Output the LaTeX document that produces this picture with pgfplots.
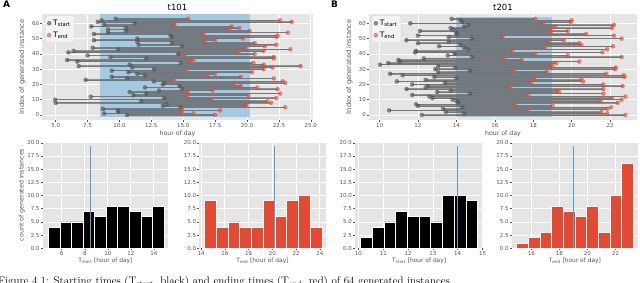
\documentclass[border=0pt]{standalone}
\usepackage{fontspec}
\setsansfont{DejaVu Sans}
\usepackage{pgfplots}
\usepackage{pgfplotstable}
\pgfplotsset{compat=1.18}
\definecolor{bg}{HTML}{E5E5E5}
\definecolor{ggred}{HTML}{E24A33}
\definecolor{ggblue}{HTML}{348ABD}
\definecolor{spanblue}{RGB}{166,201,226}
\definecolor{tickgray}{HTML}{555555}
\definecolor{vline}{RGB}{95,155,200}
\definecolor{startgray}{HTML}{555555}
\definecolor{linegray}{HTML}{777777}

\pgfplotstableread{
i s e
0 10.6 17.5
1 8.8 15.8
2 9.9 14.9
3 9.9 17.9
4 8.7 14.9
5 14.8 23.0
6 13.4 19.9
7 13.7 19.9
8 5.0 21.9
9 11.7 21.6
10 4.95 17.2
11 13.5 22.3
12 7.75 15.3
13 11.1 20.1
14 12.1 22.6
15 10.8 15.35
16 13.1 17.3
17 14.9 22.4
18 12.0 20.8
19 14.7 19.5
20 13.4 19.0
21 13.5 23.0
22 12.7 22.8
23 7.35 14.3
24 10.6 22.1
25 9.4 19.5
26 12.0 16.9
27 11.4 17.5
28 10.7 20.4
29 9.4 15.2
30 12.7 21.3
31 11.0 22.0
32 6.8 24.2
33 10.8 21.3
34 14.8 20.5
35 6.7 15.5
36 5.9 15.8
37 12.1 22.1
38 9.3 22.1
39 7.5 15.1
40 14.6 20.6
41 6.0 19.3
42 6.4 21.3
43 9.9 23.4
44 7.9 19.9
45 14.9 21.4
46 11.5 22.3
47 14.1 20.6
48 11.4 16.7
49 8.0 17.5
50 11.4 19.7
51 14.1 22.3
52 14.0 22.4
53 8.0 16.6
54 9.1 23.2
55 10.5 20.2
56 9.1 18.6
57 10.5 19.4
58 7.8 18.8
59 8.8 14.3
60 11.2 14.3
61 8.3 23.5
62 8.6 22.6
63 9.7 15.4
}\dataA

\pgfplotstableread{
i s e
0 12.2 22.8
1 14.4 21.85
2 13.45 21.55
3 10.5 17.7
4 13.3 21.85
5 14.3 22.05
6 12.0 19.0
7 11.9 17.05
8 14.1 22.4
9 14.0 21.5
10 13.8 22.6
11 12.75 22.1
12 12.6 22.8
13 11.7 17.75
14 14.7 21.65
15 13.0 19.35
16 13.7 19.25
17 11.4 21.65
18 12.4 16.8
19 12.5 22.65
20 11.7 21.65
21 13.4 17.9
22 10.9 20.6
23 12.4 20.5
24 14.0 18.05
25 12.85 22.75
26 11.2 22.7
27 10.55 21.8
28 13.05 18.7
29 14.7 17.0
30 12.9 22.25
31 13.95 22.3
32 13.05 19.0
33 10.03 18.9
34 10.45 19.2
35 11.07 20.4
36 10.98 17.4
37 12.3 16.5
38 14.8 22.6
39 13.55 19.8
40 13.9 18.1
41 11.85 21.6
42 11.9 16.9
43 14.6 21.85
44 14.4 18.6
45 13.1 22.15
46 14.2 20.5
47 12.0 20.4
48 13.6 18.8
49 11.4 19.6
50 14.8 22.6
51 13.6 16.4
52 12.0 22.2
53 14.0 20.75
54 14.0 18.9
55 12.1 19.8
56 13.8 18.9
57 13.7 22.1
58 14.4 19.15
59 14.6 22.2
60 11.6 18.5
61 14.3 19.95
62 14.2 20.0
63 13.75 18.1
}\dataB

\pgfplotsset{
  gg/.style={
    scale only axis,
    axis background/.style={fill=bg},
    axis line style={draw=none},
    grid=major,
    major grid style={white, line width=0.8pt},
    tick align=outside,
    tick pos=left,
    major tick length=2pt,
    tick style={color=tickgray, line width=0.5pt},
    tick label style={font=\sffamily\fontsize{5.5}{6}\selectfont, color=tickgray, inner sep=1pt},
    /pgf/number format/assume math mode=true,
  },
  top/.style={gg, height=105.8pt, ymin=-3.15, ymax=66.15, ytick={0,10,...,60},
    ylabel={Index of generated instance}, xlabel={hour of day},
    every axis y label/.style={at={(axis description cs:-0.074,0.5)}, rotate=90, anchor=center,
      font=\sffamily\fontsize{6.7}{7}\selectfont, color=tickgray},
    every axis x label/.style={at={(axis description cs:0.5,0)}, anchor=center, yshift=-13.8pt,
      font=\sffamily\fontsize{6.2}{7}\selectfont, color=tickgray},
    legend style={at={(0.01,0.985)}, anchor=north west, fill=white!55!bg, draw=gray!35,
      rounded corners=1.5pt, font=\sffamily\fontsize{7.5}{8}\selectfont, inner sep=2pt,
      row sep=1pt, cells={anchor=west}},
  },
  hist/.style={gg, width=126pt, height=106.6pt, ymin=0, ymax=20.2, ytick={0,2.5,...,20},
    yticklabel style={/pgf/number format/.cd, fixed, fixed zerofill, precision=1},
    every axis x label/.style={at={(axis description cs:0.5,0)}, anchor=center, yshift=-12.2pt,
      font=\sffamily\fontsize{5.9}{7}\selectfont, color=tickgray},
    every axis y label/.style={at={(axis description cs:-0.165,0.5)}, rotate=90, anchor=center,
      font=\sffamily\fontsize{6.3}{7}\selectfont, color=tickgray},
  },
  band/.style={forget plot, mark=none, quiver={u=\thisrow{e}-\thisrow{s}, v=0},
    draw=black, draw opacity=0.36, line width=1.527pt},
  stick/.style={forget plot, mark=none, quiver={u=\thisrow{e}-\thisrow{s}, v=0},
    draw=linegray, line width=0.6pt},
}

\begin{document}
\begin{tikzpicture}[x=1pt,y=1pt]
% ---------- A top ----------
\begin{axis}[top, at={(42.3pt,269pt)}, anchor=north west, width=270.4pt,
  xmin=3.95, xmax=25.15, xtick={5,7.5,...,25},
  xticklabel style={/pgf/number format/.cd, fixed, fixed zerofill, precision=1}]
\addplot[fill=spanblue, draw=none, forget plot] coordinates {(8.5,-1) (20.2,-1) (20.2,66.15) (8.5,66.15)} -- cycle;
\addplot[band] table[x=s,y=i]{\dataA};
\addplot[stick] table[x=s,y=i]{\dataA};
\addplot[only marks, mark=*, mark size=2pt, draw=startgray, fill=startgray, opacity=0.65] table[x=s,y=i]{\dataA};
\addlegendentry{T\textsubscript{start}}
\addplot[only marks, mark=*, mark size=2pt, draw=ggred, fill=ggred, opacity=0.6] table[x=e,y=i]{\dataA};
\addlegendentry{T\textsubscript{end}}
\end{axis}
% ---------- B top ----------
\begin{axis}[top, at={(369pt,269pt)}, anchor=north west, width=268pt,
  xmin=9.45, xmax=23.4, xtick={10,12,...,22}]
\addplot[fill=spanblue, draw=none, forget plot] coordinates {(14,-1) (19,-1) (19,64) (14,64)} -- cycle;
\addplot[band] table[x=s,y=i]{\dataB};
\addplot[stick] table[x=s,y=i]{\dataB};
\addplot[only marks, mark=*, mark size=2pt, draw=startgray, fill=startgray, opacity=0.65] table[x=s,y=i]{\dataB};
\addlegendentry{T\textsubscript{start}}
\addplot[only marks, mark=*, mark size=2pt, draw=ggred, fill=ggred, opacity=0.6] table[x=e,y=i]{\dataB};
\addlegendentry{T\textsubscript{end}}
\end{axis}
% ---------- histograms ----------
\begin{axis}[hist, at={(42.7pt,141.3pt)}, anchor=north west, width=125.6pt,
  xmin=4.35, xmax=15.25, xtick={6,8,...,14},
  ylabel={count of generated instances}, xlabel={T\textsubscript{start} [hour of day]}]
\addplot[ybar interval, fill=black, draw=white, line width=0.8pt] coordinates {
(4.85,4) (5.854,5) (6.858,5) (7.862,7) (8.866,6) (9.87,8) (10.874,8) (11.878,7) (12.882,6) (13.886,8) (14.89,8)};
\addplot[vline, line width=1.2pt] coordinates {(8.5,0) (8.5,19.3)};
\end{axis}
\begin{axis}[hist, at={(199.3pt,141.3pt)}, anchor=north west, width=126.4pt,
  xmin=13.85, xmax=24.5, xtick={14,16,...,24},
  xlabel={T\textsubscript{end} [hour of day]}]
\addplot[ybar interval, fill=ggred, draw=white, line width=0.8pt] coordinates {
(14.30,9) (15.29,4) (16.28,5) (17.27,4) (18.26,4) (19.25,9) (20.24,6) (21.23,9) (22.22,10) (23.21,4) (24.20,4)};
\addplot[vline, line width=1.2pt] coordinates {(20.2,0) (20.2,19.3)};
\end{axis}
\begin{axis}[hist, at={(355pt,141.3pt)}, anchor=north west, width=128.3pt,
  xmin=9.86, xmax=15.03, xtick={10,...,15},
  xlabel={T\textsubscript{start} [hour of day]}]
\addplot[ybar interval, fill=black, draw=white, line width=0.8pt] coordinates {
(10.09,2) (10.561,4) (11.032,5) (11.503,7) (11.974,6) (12.445,6) (12.916,5) (13.387,10) (13.858,10) (14.329,9) (14.80,9)};
\addplot[vline, line width=1.2pt] coordinates {(14,0) (14,19.3)};
\end{axis}
\begin{axis}[hist, at={(511.7pt,141.3pt)}, anchor=north west, width=126.3pt,
  xmin=14.6, xmax=23.6, xtick={16,18,...,22},
  xlabel={T\textsubscript{end} [hour of day]}]
\addplot[ybar interval, fill=ggred, draw=white, line width=0.8pt] coordinates {
(14.97,1) (15.801,2) (16.632,3) (17.463,8) (18.294,7) (19.125,6) (19.956,8) (20.787,3) (21.618,10) (22.449,16) (23.28,16)};
\addplot[vline, line width=1.2pt] coordinates {(19.0,0) (19.0,19.3)};
\end{axis}
% ---------- titles and panel letters ----------
\node[font=\sffamily\fontsize{8.5}{10}\selectfont, anchor=base] at (177.5pt,272pt) {t101};
\node[font=\sffamily\fontsize{8.5}{10}\selectfont, anchor=base] at (503pt,272pt) {t201};
\node[font=\sffamily\bfseries\fontsize{9}{10}\selectfont, anchor=north west, inner sep=0pt] at (3pt,282pt) {A};
\node[font=\sffamily\bfseries\fontsize{9}{10}\selectfont, anchor=north west, inner sep=0pt] at (331pt,282pt) {B};
\node[font=\rmfamily\fontsize{11}{13}\selectfont, anchor=base west, inner sep=0pt] at (-2pt,-1.5pt) {Figure 4.1: Starting times (T\textsubscript{start}, black) and ending times (T\textsubscript{end}, red) of 64 generated instances.};
\pgfresetboundingbox
\useasboundingbox (0,0) rectangle (640pt,283pt);
\end{tikzpicture}
\end{document}
